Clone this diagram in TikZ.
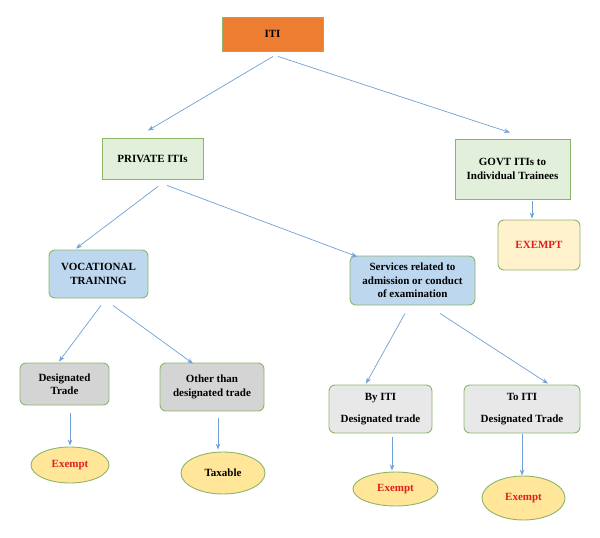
\documentclass[tikz,border=0pt]{standalone}
\usepackage{fontspec}
\setmainfont{Liberation Serif}
\usetikzlibrary{shapes.geometric,arrows.meta,calc}
\definecolor{bord}{HTML}{8DB56A}
\definecolor{arrc}{HTML}{6FA0D6}
\definecolor{orangef}{HTML}{ED7D31}
\definecolor{greenf}{HTML}{E2EFDA}
\definecolor{bluef}{HTML}{BDD7EE}
\definecolor{grayf}{HTML}{D4D4D4}
\definecolor{lgrayf}{HTML}{E8E8E8}
\definecolor{yelf}{HTML}{FFF2CC}
\definecolor{ellf}{HTML}{FFE699}
\definecolor{redt}{HTML}{E02020}
\tikzset{
  box/.style={draw=bord, line width=0.9pt, align=center, font=\bfseries\fontsize{11}{13.5}\selectfont, inner sep=2pt},
  rbox/.style={box, rounded corners=6pt},
  ell/.style={ellipse, draw=bord, line width=0.9pt, fill=ellf, align=center, font=\bfseries\fontsize{11}{13.5}\selectfont, inner sep=0pt},
  arr/.style={draw=arrc, line width=0.7pt, -{Stealth[length=6pt,width=4.5pt]}},
}
\begin{document}
\begin{tikzpicture}[x=1pt,y=-1pt]
\useasboundingbox (0,0) rectangle (600,538);
\node[box, fill=orangef, minimum width=101pt, minimum height=34pt] (iti) at (272.5,34) {ITI};
\node[box, fill=greenf, minimum width=101pt, minimum height=41pt] (priv) at (152.5,158.5) {PRIVATE ITIs};
\node[box, fill=greenf, minimum width=115pt, minimum height=60pt] (govt) at (512.5,169) {GOVT ITIs to\\Individual Trainees};
\node[rbox, fill=yelf, minimum width=82pt, minimum height=50pt, text=redt] (exg) at (539,245) {EXEMPT};
\node[rbox, fill=bluef, minimum width=99pt, minimum height=48pt] (voc) at (98.5,274) {VOCATIONAL\\TRAINING};
\node[rbox, fill=bluef, minimum width=125pt, minimum height=49pt] (serv) at (412.5,280.5) {Services related to\\admission or conduct\\of examination};
\node[rbox, fill=grayf, minimum width=89pt, minimum height=42pt] (desig) at (64.5,384) {Designated\\Trade};
\node[rbox, fill=grayf, minimum width=104pt, minimum height=48pt] (other) at (212,387) {Other than\\designated trade};
\node[rbox, fill=lgrayf, minimum width=103pt, minimum height=48pt] (by) at (380.5,409) {By ITI\\[8pt]Designated trade};
\node[rbox, fill=lgrayf, minimum width=116pt, minimum height=48pt] (to) at (522,409) {To ITI\\[8pt]Designated Trade};
\node[ell, minimum width=78pt, minimum height=36pt, text=redt] (ex1) at (70,465) {Exempt};
\node[ell, minimum width=84pt, minimum height=42pt] (tax) at (223,473) {Taxable};
\node[ell, minimum width=85pt, minimum height=34pt, text=redt] (ex3) at (395.5,489) {Exempt};
\node[ell, minimum width=83pt, minimum height=44pt, text=redt] (ex4) at (523.5,498) {Exempt};
\draw[arr] ($(iti.south)+(0.5,5)$) -- ($(priv.north)+(-4.5,-7)$);
\draw[arr] ($(iti.south)+(5.5,5)$) -- ($(govt.north)+(-2.5,-6)$);
\draw[arr] ($(govt.south)+(19.5,2)$) -- ($(exg.north)+(-7,-1)$);
\draw[arr] ($(priv.south)+(5.5,7)$) -- ($(voc.north)+(-22.5,-1)$);
\draw[arr] ($(priv.south)+(14.5,6)$) -- ($(serv.north)+(-55.5,1)$);
\draw[arr] ($(voc.south)+(2.5,7)$) -- ($(desig.north)+(-5.5,-1)$);
\draw[arr] ($(voc.south)+(14.5,7)$) -- ($(other.north)+(-19,1)$);
\draw[arr] ($(desig.south)+(5.5,8)$) -- ($(ex1.north)+(0,-1)$);
\draw[arr] ($(other.south)+(6,7)$) -- ($(tax.north)+(-5,-2)$);
\draw[arr] ($(serv.south)+(-7.5,8)$) -- ($(by.north)+(-14.5,-1)$);
\draw[arr] ($(serv.south)+(27.5,8)$) -- ($(to.north)+(26,-1)$);
\draw[arr] ($(by.south)+(11.5,4)$) -- ($(ex3.north)+(-3.5,-1)$);
\draw[arr] ($(to.south)+(0,1)$) -- ($(ex4.north)+(-1.5,0)$);
\end{tikzpicture}
\end{document}
